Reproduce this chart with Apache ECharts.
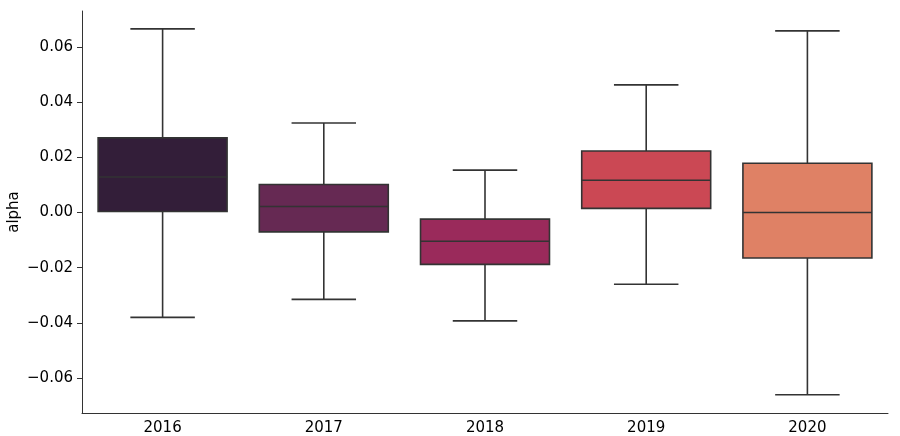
<!DOCTYPE html>
<html>
<head>
<meta charset="utf-8">
<script src="https://cdn.jsdelivr.net/npm/echarts@6/dist/echarts.min.js"></script>
<style>
html,body{margin:0;padding:0;background:#fff;}
#chart{width:900px;height:436px;}
</style>
</head>
<body>
<div id="chart"></div>
<script>
const categories = ['2016', '2017', '2018', '2019', '2020'];
const lowerWhisker = [-0.0380, -0.0315, -0.0393, -0.0260, -0.0661];
const q1 = [0.0004, -0.0070, -0.0188, 0.0015, -0.0165];
const median = [0.0129, 0.0022, -0.0104, 0.0117, 0.0000];
const q3 = [0.0271, 0.0102, -0.0024, 0.0223, 0.0179];
const upperWhisker = [0.0666, 0.0325, 0.0154, 0.0463, 0.0659];
const yTicks = [-0.06, -0.04, -0.02, 0.00, 0.02, 0.04, 0.06];

const palette = ['#331e39', '#662953', '#9a2a5b', '#cb4854', '#df8165'];
const lineColor = '#333333';
const font = 'DejaVu Sans';

const seriesData = categories.map((c, i) => [i, lowerWhisker[i], q1[i], median[i], q3[i], upperWhisker[i]]);

const chart = echarts.init(document.getElementById('chart'), null, {renderer: 'canvas'});
chart.setOption({
  animation: false,
  backgroundColor: '#fff',
  grid: {left: 82, right: 12, top: 11, bottom: 23, containLabel: false, outerBoundsMode: 'none'},
  xAxis: {
    type: 'category',
    data: categories,
    boundaryGap: true,
    axisLine: {onZero: false, lineStyle: {color: '#333', width: 1}},
    axisTick: {alignWithLabel: true, length: 5, lineStyle: {color: '#333'}},
    axisLabel: {color: '#000', fontFamily: font, fontSize: 15, margin: 8},
    splitLine: {show: false}
  },
  yAxis: {
    type: 'value',
    min: -0.0727,
    max: 0.0731,
    name: 'alpha',
    nameLocation: 'middle',
    nameGap: 60,
    nameMoveOverlap: false,
    nameTextStyle: {color: '#000', fontFamily: font, fontSize: 15},
    axisLine: {show: true, onZero: false, lineStyle: {color: '#333', width: 1}},
    axisTick: {show: true, length: 5, lineStyle: {color: '#333'}, customValues: yTicks},
    axisLabel: {
      color: '#000', fontFamily: font, fontSize: 15, margin: 9,
      customValues: yTicks,
      formatter: v => (v < 0 ? '\u2212' : '') + Math.abs(v).toFixed(2)
    },
    splitLine: {show: false}
  },
  series: [{
    type: 'custom',
    data: seriesData,
    encode: {x: 0, y: [1, 2, 3, 4, 5]},
    renderItem: function (params, api) {
      const i = api.value(0);
      const lo = api.coord([i, api.value(1)]);
      const b1 = api.coord([i, api.value(2)]);
      const md = api.coord([i, api.value(3)]);
      const b3 = api.coord([i, api.value(4)]);
      const hi = api.coord([i, api.value(5)]);
      const band = api.size([1, 0])[0];
      const hw = band * 0.4, cw = band * 0.2;
      const cx = md[0];
      const ls = {stroke: lineColor, lineWidth: 1.6};
      return {
        type: 'group',
        children: [
          {type: 'line', shape: {x1: cx, y1: b1[1], x2: cx, y2: lo[1]}, style: ls},
          {type: 'line', shape: {x1: cx, y1: b3[1], x2: cx, y2: hi[1]}, style: ls},
          {type: 'line', shape: {x1: cx - cw, y1: lo[1], x2: cx + cw, y2: lo[1]}, style: ls},
          {type: 'line', shape: {x1: cx - cw, y1: hi[1], x2: cx + cw, y2: hi[1]}, style: ls},
          {type: 'rect', shape: {x: cx - hw, y: b3[1], width: 2 * hw, height: b1[1] - b3[1]},
            style: {fill: palette[i], stroke: lineColor, lineWidth: 1.6}},
          {type: 'line', shape: {x1: cx - hw, y1: md[1], x2: cx + hw, y2: md[1]}, style: ls}
        ]
      };
    }
  }]
});
</script>
</body>
</html>
